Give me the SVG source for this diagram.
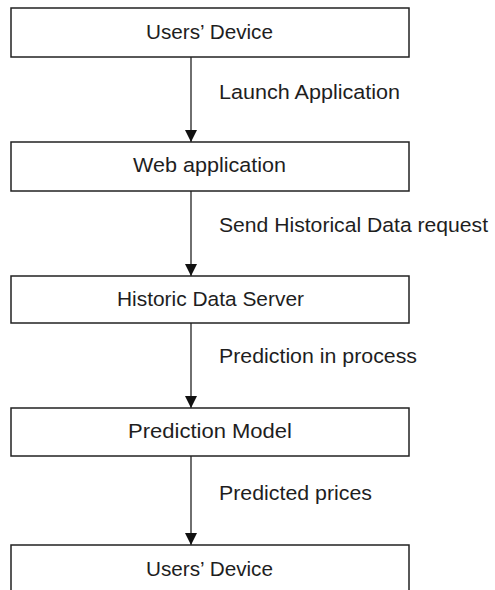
<svg xmlns="http://www.w3.org/2000/svg" width="495" height="590" viewBox="0 0 495 590">
  <style>
    .box { fill: #ffffff; stroke: #222222; stroke-width: 1.5; }
    .label { font-family: "Liberation Sans", Arial, sans-serif; font-size: 20.5px; fill: #1e1e1e; }
    .mid { text-anchor: middle; }
    .edge { stroke: #222222; stroke-width: 1.3; fill: none; marker-end: url(#arrow); }
  </style>
  <defs>
    <marker id="arrow" viewBox="0 0 12 12" refX="12" refY="6" markerWidth="12" markerHeight="12" markerUnits="userSpaceOnUse" orient="auto">
      <path d="M0,0 L12,6 L0,12 Z" fill="#111111"/>
    </marker>
  </defs>
  <rect width="495" height="590" fill="#ffffff"/>

  <!-- connectors -->
  <g id="connectors">
    <path class="edge" d="M191,57 V142"/>
    <text class="label" x="219" y="99" textLength="181" lengthAdjust="spacingAndGlyphs">Launch Application</text>
    <path class="edge" d="M191,191 V276"/>
    <text class="label" x="219" y="232" textLength="269" lengthAdjust="spacingAndGlyphs">Send Historical Data request</text>
    <path class="edge" d="M191,323 V408"/>
    <text class="label" x="219" y="363" textLength="198" lengthAdjust="spacingAndGlyphs">Prediction in process</text>
    <path class="edge" d="M191,456 V545"/>
    <text class="label" x="219" y="500" textLength="153" lengthAdjust="spacingAndGlyphs">Predicted prices</text>
  </g>

  <!-- nodes -->
  <g id="users-device-start">
    <rect class="box" x="11" y="8" width="398" height="49"/>
    <text class="label mid" x="209.5" y="39" textLength="127" lengthAdjust="spacingAndGlyphs">Users’ Device</text>
  </g>
  <g id="web-application">
    <rect class="box" x="11" y="142" width="398" height="49"/>
    <text class="label mid" x="209.5" y="172" textLength="153" lengthAdjust="spacingAndGlyphs">Web application</text>
  </g>
  <g id="historic-data-server">
    <rect class="box" x="11" y="276" width="398" height="47"/>
    <text class="label mid" x="210.5" y="306" textLength="187" lengthAdjust="spacingAndGlyphs">Historic Data Server</text>
  </g>
  <g id="prediction-model">
    <rect class="box" x="11" y="408" width="398" height="48"/>
    <text class="label mid" x="210" y="438" textLength="164" lengthAdjust="spacingAndGlyphs">Prediction Model</text>
  </g>
  <g id="users-device-end">
    <rect class="box" x="11" y="545" width="398" height="60"/>
    <text class="label mid" x="209.5" y="576" textLength="127" lengthAdjust="spacingAndGlyphs">Users’ Device</text>
  </g>
</svg>
